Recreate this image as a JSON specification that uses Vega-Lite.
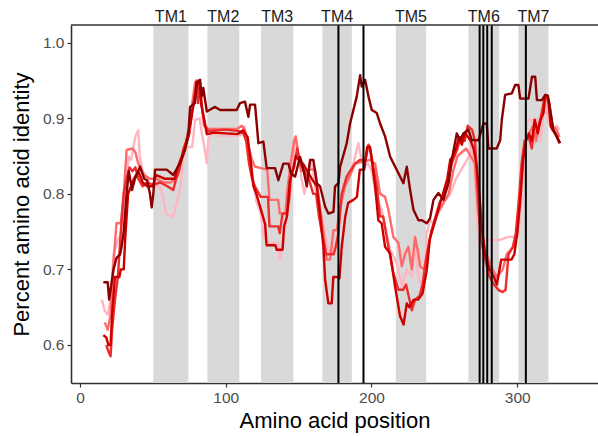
{
"$schema": "https://vega.github.io/schema/vega-lite/v6.json",
"width": 527, "height": 358,
"autosize": {"type": "none"},
"padding": {"left": 71, "top": 25, "right": 0, "bottom": 53},
"config": {
  "view": {"stroke": null},
  "font": "Liberation Sans",
  "axis": {"domainColor": "#333333", "domainWidth": 1.6, "tickColor": "#333333", "tickWidth": 1.2, "tickSize": 4, "labelColor": "#4D4D4D", "labelFontSize": 15.5, "labelFont": "Liberation Sans", "titleFont": "Liberation Sans", "titleFontSize": 22, "titleFontWeight": "normal", "titleColor": "#000000", "grid": false, "labelPadding": 3}
},
"datasets": {
  "tm": [
    {"label": "TM1", "start": 50.3, "end": 74.4},
    {"label": "TM2", "start": 87.4, "end": 109.3},
    {"label": "TM3", "start": 124.2, "end": 146.4},
    {"label": "TM4", "start": 166.3, "end": 186.5},
    {"label": "TM5", "start": 216.7, "end": 237.5},
    {"label": "TM6", "start": 266.5, "end": 287.6},
    {"label": "TM7", "start": 300.8, "end": 321.4}
  ],
  "marks": [{"p": 177.3}, {"p": 194.5}, {"p": 274.2}, {"p": 276.7}, {"p": 279.4}, {"p": 282.5}, {"p": 305.9}],
  "ident": [
{"s":"1","p":15,"v":0.66},{"s":"1","p":17,"v":0.645},{"s":"1","p":19,"v":0.64},{"s":"1","p":21,"v":0.66},{"s":"1","p":23,"v":0.72},{"s":"1","p":26,"v":0.739},{"s":"1","p":28,"v":0.745},{"s":"1","p":31,"v":0.81},{"s":"1","p":33.5,"v":0.849},{"s":"1","p":35,"v":0.845},{"s":"1","p":38,"v":0.876},{"s":"1","p":40,"v":0.884},{"s":"1","p":41,"v":0.849},{"s":"1","p":43,"v":0.83},{"s":"1","p":48,"v":0.814},{"s":"1","p":51,"v":0.81},{"s":"1","p":55,"v":0.81},{"s":"1","p":57,"v":0.796},{"s":"1","p":59,"v":0.774},{"s":"1","p":64,"v":0.77},{"s":"1","p":67,"v":0.792},{"s":"1","p":69,"v":0.81},{"s":"1","p":70,"v":0.83},{"s":"1","p":71,"v":0.849},{"s":"1","p":73,"v":0.862},{"s":"1","p":77,"v":0.862},{"s":"1","p":79,"v":0.898},{"s":"1","p":82,"v":0.9},{"s":"1","p":84,"v":0.876},{"s":"1","p":86,"v":0.854},{"s":"1","p":87,"v":0.84},{"s":"1","p":88,"v":0.871},{"s":"1","p":91,"v":0.884},{"s":"1","p":94,"v":0.877},{"s":"1","p":110,"v":0.877},{"s":"1","p":113,"v":0.889},{"s":"1","p":114,"v":0.871},{"s":"1","p":117,"v":0.849},{"s":"1","p":118.5,"v":0.823},{"s":"1","p":121,"v":0.79},{"s":"1","p":124,"v":0.774},{"s":"1","p":126,"v":0.743},{"s":"1","p":130,"v":0.735},{"s":"1","p":136,"v":0.735},{"s":"1","p":137,"v":0.713},{"s":"1","p":139,"v":0.735},{"s":"1","p":141,"v":0.757},{"s":"1","p":143.5,"v":0.818},{"s":"1","p":146,"v":0.845},{"s":"1","p":148,"v":0.875},{"s":"1","p":150,"v":0.85},{"s":"1","p":152,"v":0.82},{"s":"1","p":154,"v":0.8},{"s":"1","p":157.9,"v":0.845},{"s":"1","p":160,"v":0.83},{"s":"1","p":162,"v":0.8},{"s":"1","p":165.8,"v":0.77},{"s":"1","p":169.3,"v":0.735},{"s":"1","p":171.6,"v":0.72},{"s":"1","p":175,"v":0.73},{"s":"1","p":177.3,"v":0.757},{"s":"1","p":180.7,"v":0.81},{"s":"1","p":184.2,"v":0.827},{"s":"1","p":187.6,"v":0.84},{"s":"1","p":191,"v":0.867},{"s":"1","p":192.2,"v":0.855},{"s":"1","p":194.4,"v":0.836},{"s":"1","p":197.7,"v":0.84},{"s":"1","p":200.2,"v":0.83},{"s":"1","p":203.6,"v":0.792},{"s":"1","p":207,"v":0.779},{"s":"1","p":209.3,"v":0.757},{"s":"1","p":212.8,"v":0.726},{"s":"1","p":217.4,"v":0.708},{"s":"1","p":220.8,"v":0.677},{"s":"1","p":224.2,"v":0.7},{"s":"1","p":227.6,"v":0.69},{"s":"1","p":229.9,"v":0.735},{"s":"1","p":232.2,"v":0.69},{"s":"1","p":234.5,"v":0.677},{"s":"1","p":236.8,"v":0.704},{"s":"1","p":237.9,"v":0.748},{"s":"1","p":240.2,"v":0.765},{"s":"1","p":243,"v":0.76},{"s":"1","p":246,"v":0.775},{"s":"1","p":250,"v":0.79},{"s":"1","p":254,"v":0.8},{"s":"1","p":258,"v":0.82},{"s":"1","p":261,"v":0.83},{"s":"1","p":264,"v":0.84},{"s":"1","p":267,"v":0.85},{"s":"1","p":269,"v":0.867},{"s":"1","p":271,"v":0.823},{"s":"1","p":273,"v":0.748},{"s":"1","p":276,"v":0.713},{"s":"1","p":279,"v":0.739},{"s":"1","p":288,"v":0.739},{"s":"1","p":294,"v":0.743},{"s":"1","p":300,"v":0.743},{"s":"1","p":302,"v":0.765},{"s":"1","p":304,"v":0.818},{"s":"1","p":306,"v":0.87},{"s":"1","p":307,"v":0.898},{"s":"1","p":310,"v":0.898},{"s":"1","p":312,"v":0.867},{"s":"1","p":314,"v":0.9},{"s":"1","p":316,"v":0.87},{"s":"1","p":319,"v":0.924},{"s":"1","p":321,"v":0.898},{"s":"1","p":324,"v":0.885},{"s":"1","p":327,"v":0.89},{"s":"1","p":329,"v":0.885},
{"s":"2","p":17,"v":0.63},{"s":"2","p":19,"v":0.62},{"s":"2","p":21,"v":0.64},{"s":"2","p":23,"v":0.708},{"s":"2","p":25,"v":0.761},{"s":"2","p":28,"v":0.761},{"s":"2","p":30,"v":0.8},{"s":"2","p":32,"v":0.858},{"s":"2","p":36,"v":0.86},{"s":"2","p":38,"v":0.855},{"s":"2","p":40,"v":0.84},{"s":"2","p":44,"v":0.825},{"s":"2","p":48,"v":0.82},{"s":"2","p":52,"v":0.82},{"s":"2","p":58,"v":0.815},{"s":"2","p":62,"v":0.815},{"s":"2","p":66,"v":0.82},{"s":"2","p":69,"v":0.84},{"s":"2","p":72,"v":0.86},{"s":"2","p":75,"v":0.88},{"s":"2","p":77,"v":0.92},{"s":"2","p":79,"v":0.948},{"s":"2","p":81,"v":0.945},{"s":"2","p":83,"v":0.93},{"s":"2","p":85,"v":0.89},{"s":"2","p":88,"v":0.886},{"s":"2","p":100,"v":0.886},{"s":"2","p":108,"v":0.886},{"s":"2","p":111,"v":0.89},{"s":"2","p":113,"v":0.885},{"s":"2","p":116,"v":0.86},{"s":"2","p":118,"v":0.845},{"s":"2","p":120,"v":0.836},{"s":"2","p":128.5,"v":0.832},{"s":"2","p":130,"v":0.792},{"s":"2","p":136,"v":0.792},{"s":"2","p":137,"v":0.774},{"s":"2","p":141,"v":0.774},{"s":"2","p":142,"v":0.8},{"s":"2","p":144.5,"v":0.84},{"s":"2","p":147,"v":0.871},{"s":"2","p":148,"v":0.876},{"s":"2","p":150,"v":0.85},{"s":"2","p":152,"v":0.83},{"s":"2","p":155,"v":0.83},{"s":"2","p":158,"v":0.832},{"s":"2","p":161.3,"v":0.832},{"s":"2","p":164.7,"v":0.783},{"s":"2","p":167,"v":0.748},{"s":"2","p":169.3,"v":0.713},{"s":"2","p":171.6,"v":0.713},{"s":"2","p":173.9,"v":0.752},{"s":"2","p":176.2,"v":0.752},{"s":"2","p":178.5,"v":0.783},{"s":"2","p":181.9,"v":0.81},{"s":"2","p":186.5,"v":0.83},{"s":"2","p":188.7,"v":0.84},{"s":"2","p":199,"v":0.845},{"s":"2","p":202.5,"v":0.84},{"s":"2","p":205.9,"v":0.8},{"s":"2","p":209.3,"v":0.796},{"s":"2","p":211.6,"v":0.779},{"s":"2","p":215,"v":0.743},{"s":"2","p":218.5,"v":0.735},{"s":"2","p":220.8,"v":0.704},{"s":"2","p":223,"v":0.72},{"s":"2","p":225.3,"v":0.73},{"s":"2","p":227.6,"v":0.7},{"s":"2","p":229.9,"v":0.743},{"s":"2","p":232.2,"v":0.72},{"s":"2","p":233.4,"v":0.704},{"s":"2","p":236,"v":0.7},{"s":"2","p":238,"v":0.72},{"s":"2","p":241,"v":0.75},{"s":"2","p":244,"v":0.77},{"s":"2","p":247,"v":0.78},{"s":"2","p":250,"v":0.79},{"s":"2","p":253,"v":0.8},{"s":"2","p":256,"v":0.83},{"s":"2","p":259,"v":0.85},{"s":"2","p":262,"v":0.855},{"s":"2","p":265,"v":0.86},{"s":"2","p":268,"v":0.85},{"s":"2","p":271,"v":0.84},{"s":"2","p":273,"v":0.78},{"s":"2","p":276,"v":0.74},{"s":"2","p":279,"v":0.72},{"s":"2","p":283,"v":0.7},{"s":"2","p":286,"v":0.69},{"s":"2","p":290,"v":0.7},{"s":"2","p":293,"v":0.721},{"s":"2","p":298,"v":0.73},{"s":"2","p":300,"v":0.75},{"s":"2","p":302,"v":0.8},{"s":"2","p":304,"v":0.85},{"s":"2","p":306,"v":0.87},{"s":"2","p":308,"v":0.88},{"s":"2","p":311,"v":0.89},{"s":"2","p":313,"v":0.87},{"s":"2","p":315,"v":0.89},{"s":"2","p":318,"v":0.91},{"s":"2","p":320,"v":0.93},{"s":"2","p":322,"v":0.92},{"s":"2","p":324,"v":0.89},{"s":"2","p":327,"v":0.885},{"s":"2","p":329,"v":0.875},
{"s":"3","p":18,"v":0.6},{"s":"3","p":20,"v":0.589},{"s":"3","p":21,"v":0.585},{"s":"3","p":22,"v":0.62},{"s":"3","p":24,"v":0.66},{"s":"3","p":26,"v":0.69},{"s":"3","p":28,"v":0.75},{"s":"3","p":30,"v":0.8},{"s":"3","p":32,"v":0.82},{"s":"3","p":34,"v":0.835},{"s":"3","p":36,"v":0.83},{"s":"3","p":38,"v":0.835},{"s":"3","p":40,"v":0.82},{"s":"3","p":43,"v":0.81},{"s":"3","p":46,"v":0.815},{"s":"3","p":50,"v":0.812},{"s":"3","p":55,"v":0.815},{"s":"3","p":60,"v":0.81},{"s":"3","p":64,"v":0.805},{"s":"3","p":66,"v":0.82},{"s":"3","p":68,"v":0.83},{"s":"3","p":71,"v":0.86},{"s":"3","p":73,"v":0.87},{"s":"3","p":75,"v":0.88},{"s":"3","p":77,"v":0.91},{"s":"3","p":79,"v":0.93},{"s":"3","p":80,"v":0.95},{"s":"3","p":81,"v":0.92},{"s":"3","p":82,"v":0.945},{"s":"3","p":84,"v":0.91},{"s":"3","p":86,"v":0.89},{"s":"3","p":88,"v":0.883},{"s":"3","p":100,"v":0.885},{"s":"3","p":109,"v":0.883},{"s":"3","p":112,"v":0.88},{"s":"3","p":114,"v":0.87},{"s":"3","p":116,"v":0.84},{"s":"3","p":118,"v":0.82},{"s":"3","p":120,"v":0.81},{"s":"3","p":124,"v":0.796},{"s":"3","p":129,"v":0.796},{"s":"3","p":130,"v":0.757},{"s":"3","p":136,"v":0.757},{"s":"3","p":137,"v":0.748},{"s":"3","p":139,"v":0.774},{"s":"3","p":142,"v":0.774},{"s":"3","p":143.5,"v":0.792},{"s":"3","p":145,"v":0.828},{"s":"3","p":147,"v":0.836},{"s":"3","p":149,"v":0.86},{"s":"3","p":151,"v":0.84},{"s":"3","p":154,"v":0.83},{"s":"3","p":157,"v":0.82},{"s":"3","p":160,"v":0.8},{"s":"3","p":162,"v":0.8},{"s":"3","p":164,"v":0.77},{"s":"3","p":166,"v":0.748},{"s":"3","p":169,"v":0.72},{"s":"3","p":174,"v":0.72},{"s":"3","p":175.5,"v":0.73},{"s":"3","p":177.3,"v":0.748},{"s":"3","p":179.6,"v":0.8},{"s":"3","p":183,"v":0.823},{"s":"3","p":188.7,"v":0.84},{"s":"3","p":192.2,"v":0.845},{"s":"3","p":196,"v":0.845},{"s":"3","p":197.9,"v":0.865},{"s":"3","p":199,"v":0.86},{"s":"3","p":200.4,"v":0.845},{"s":"3","p":203.6,"v":0.81},{"s":"3","p":205.9,"v":0.77},{"s":"3","p":208,"v":0.77},{"s":"3","p":211.6,"v":0.73},{"s":"3","p":215,"v":0.695},{"s":"3","p":218.5,"v":0.673},{"s":"3","p":221.7,"v":0.673},{"s":"3","p":223.7,"v":0.68},{"s":"3","p":227.7,"v":0.646},{"s":"3","p":229.9,"v":0.66},{"s":"3","p":233,"v":0.665},{"s":"3","p":235,"v":0.68},{"s":"3","p":238,"v":0.72},{"s":"3","p":241,"v":0.75},{"s":"3","p":244,"v":0.77},{"s":"3","p":247,"v":0.79},{"s":"3","p":250,"v":0.8},{"s":"3","p":252,"v":0.81},{"s":"3","p":255,"v":0.84},{"s":"3","p":257,"v":0.85},{"s":"3","p":259,"v":0.86},{"s":"3","p":261,"v":0.875},{"s":"3","p":264,"v":0.87},{"s":"3","p":266,"v":0.89},{"s":"3","p":269,"v":0.885},{"s":"3","p":271,"v":0.87},{"s":"3","p":273,"v":0.8},{"s":"3","p":275,"v":0.74},{"s":"3","p":278,"v":0.713},{"s":"3","p":281,"v":0.69},{"s":"3","p":284,"v":0.68},{"s":"3","p":287,"v":0.673},{"s":"3","p":290,"v":0.67},{"s":"3","p":292,"v":0.673},{"s":"3","p":294,"v":0.72},{"s":"3","p":297,"v":0.73},{"s":"3","p":299,"v":0.748},{"s":"3","p":301,"v":0.79},{"s":"3","p":303,"v":0.84},{"s":"3","p":305,"v":0.87},{"s":"3","p":308,"v":0.875},{"s":"3","p":310,"v":0.86},{"s":"3","p":312,"v":0.895},{"s":"3","p":314,"v":0.885},{"s":"3","p":316,"v":0.9},{"s":"3","p":318,"v":0.92},{"s":"3","p":320,"v":0.93},{"s":"3","p":322,"v":0.92},{"s":"3","p":324,"v":0.885},{"s":"3","p":327,"v":0.877},{"s":"3","p":329,"v":0.868},
{"s":"4","p":16,"v":0.613},{"s":"4","p":18,"v":0.61},{"s":"4","p":19.5,"v":0.6},{"s":"4","p":21,"v":0.6},{"s":"4","p":22,"v":0.64},{"s":"4","p":24,"v":0.69},{"s":"4","p":27,"v":0.69},{"s":"4","p":28,"v":0.7},{"s":"4","p":30,"v":0.7},{"s":"4","p":31,"v":0.74},{"s":"4","p":33,"v":0.8},{"s":"4","p":35,"v":0.81},{"s":"4","p":37,"v":0.82},{"s":"4","p":40,"v":0.83},{"s":"4","p":43,"v":0.815},{"s":"4","p":46,"v":0.81},{"s":"4","p":50,"v":0.81},{"s":"4","p":52,"v":0.825},{"s":"4","p":58,"v":0.82},{"s":"4","p":65,"v":0.82},{"s":"4","p":67,"v":0.835},{"s":"4","p":70,"v":0.85},{"s":"4","p":72,"v":0.86},{"s":"4","p":74,"v":0.88},{"s":"4","p":76,"v":0.895},{"s":"4","p":78,"v":0.92},{"s":"4","p":80,"v":0.945},{"s":"4","p":82,"v":0.95},{"s":"4","p":83,"v":0.92},{"s":"4","p":85,"v":0.9},{"s":"4","p":87,"v":0.879},{"s":"4","p":92,"v":0.881},{"s":"4","p":108,"v":0.879},{"s":"4","p":112,"v":0.884},{"s":"4","p":115,"v":0.875},{"s":"4","p":117,"v":0.845},{"s":"4","p":119,"v":0.81},{"s":"4","p":121,"v":0.8},{"s":"4","p":124,"v":0.78},{"s":"4","p":127,"v":0.76},{"s":"4","p":128,"v":0.732},{"s":"4","p":134,"v":0.732},{"s":"4","p":135,"v":0.726},{"s":"4","p":139,"v":0.726},{"s":"4","p":140,"v":0.757},{"s":"4","p":142,"v":0.77},{"s":"4","p":144,"v":0.818},{"s":"4","p":146,"v":0.83},{"s":"4","p":148,"v":0.85},{"s":"4","p":150,"v":0.845},{"s":"4","p":153,"v":0.84},{"s":"4","p":156,"v":0.83},{"s":"4","p":159,"v":0.82},{"s":"4","p":162.5,"v":0.81},{"s":"4","p":164.7,"v":0.774},{"s":"4","p":167,"v":0.73},{"s":"4","p":168.2,"v":0.686},{"s":"4","p":170.4,"v":0.655},{"s":"4","p":172.7,"v":0.655},{"s":"4","p":173.8,"v":0.69},{"s":"4","p":177.3,"v":0.69},{"s":"4","p":178,"v":0.688},{"s":"4","p":179.6,"v":0.73},{"s":"4","p":182,"v":0.77},{"s":"4","p":184,"v":0.788},{"s":"4","p":187.6,"v":0.792},{"s":"4","p":190,"v":0.796},{"s":"4","p":192,"v":0.832},{"s":"4","p":195,"v":0.832},{"s":"4","p":197,"v":0.862},{"s":"4","p":199,"v":0.862},{"s":"4","p":202.5,"v":0.81},{"s":"4","p":204.7,"v":0.765},{"s":"4","p":207,"v":0.761},{"s":"4","p":209.3,"v":0.73},{"s":"4","p":212.8,"v":0.721},{"s":"4","p":216.2,"v":0.677},{"s":"4","p":219.6,"v":0.638},{"s":"4","p":222,"v":0.627},{"s":"4","p":224.2,"v":0.655},{"s":"4","p":226,"v":0.65},{"s":"4","p":229,"v":0.66},{"s":"4","p":232,"v":0.66},{"s":"4","p":235,"v":0.668},{"s":"4","p":238,"v":0.7},{"s":"4","p":240,"v":0.74},{"s":"4","p":243,"v":0.76},{"s":"4","p":246,"v":0.78},{"s":"4","p":249,"v":0.8},{"s":"4","p":252,"v":0.82},{"s":"4","p":254,"v":0.845},{"s":"4","p":256,"v":0.85},{"s":"4","p":258,"v":0.86},{"s":"4","p":260,"v":0.875},{"s":"4","p":262,"v":0.865},{"s":"4","p":264,"v":0.88},{"s":"4","p":266,"v":0.876},{"s":"4","p":268,"v":0.87},{"s":"4","p":270,"v":0.86},{"s":"4","p":272,"v":0.84},{"s":"4","p":274,"v":0.8},{"s":"4","p":276,"v":0.75},{"s":"4","p":278,"v":0.72},{"s":"4","p":281,"v":0.7},{"s":"4","p":284,"v":0.69},{"s":"4","p":286,"v":0.68},{"s":"4","p":289,"v":0.713},{"s":"4","p":296,"v":0.713},{"s":"4","p":298,"v":0.72},{"s":"4","p":300,"v":0.748},{"s":"4","p":302,"v":0.79},{"s":"4","p":304,"v":0.845},{"s":"4","p":306,"v":0.871},{"s":"4","p":308,"v":0.88},{"s":"4","p":310,"v":0.87},{"s":"4","p":312,"v":0.898},{"s":"4","p":314,"v":0.88},{"s":"4","p":316,"v":0.898},{"s":"4","p":318,"v":0.907},{"s":"4","p":319,"v":0.929},{"s":"4","p":321,"v":0.929},{"s":"4","p":323,"v":0.889},{"s":"4","p":326,"v":0.88},{"s":"4","p":329,"v":0.867},
{"s":"5","p":16,"v":0.683},{"s":"5","p":19,"v":0.683},{"s":"5","p":20,"v":0.66},{"s":"5","p":23,"v":0.7},{"s":"5","p":25,"v":0.715},{"s":"5","p":27.5,"v":0.72},{"s":"5","p":28.5,"v":0.73},{"s":"5","p":30,"v":0.75},{"s":"5","p":32,"v":0.8},{"s":"5","p":33.5,"v":0.83},{"s":"5","p":35.7,"v":0.805},{"s":"5","p":37.7,"v":0.82},{"s":"5","p":41.2,"v":0.836},{"s":"5","p":44,"v":0.82},{"s":"5","p":46,"v":0.818},{"s":"5","p":48,"v":0.8},{"s":"5","p":49.2,"v":0.782},{"s":"5","p":50.3,"v":0.8},{"s":"5","p":51.5,"v":0.832},{"s":"5","p":59.5,"v":0.832},{"s":"5","p":64,"v":0.825},{"s":"5","p":68.6,"v":0.84},{"s":"5","p":72,"v":0.858},{"s":"5","p":74.3,"v":0.876},{"s":"5","p":75.5,"v":0.915},{"s":"5","p":78.9,"v":0.92},{"s":"5","p":80.1,"v":0.947},{"s":"5","p":82.4,"v":0.951},{"s":"5","p":83.5,"v":0.929},{"s":"5","p":84.6,"v":0.94},{"s":"5","p":87,"v":0.909},{"s":"5","p":92.7,"v":0.915},{"s":"5","p":96.1,"v":0.911},{"s":"5","p":107.5,"v":0.911},{"s":"5","p":109.8,"v":0.92},{"s":"5","p":113.2,"v":0.922},{"s":"5","p":115.5,"v":0.902},{"s":"5","p":116.7,"v":0.918},{"s":"5","p":120.1,"v":0.918},{"s":"5","p":122.4,"v":0.867},{"s":"5","p":125.8,"v":0.869},{"s":"5","p":128.1,"v":0.834},{"s":"5","p":133.8,"v":0.834},{"s":"5","p":136.1,"v":0.818},{"s":"5","p":139.5,"v":0.84},{"s":"5","p":143,"v":0.84},{"s":"5","p":144.8,"v":0.827},{"s":"5","p":147.6,"v":0.823},{"s":"5","p":151,"v":0.849},{"s":"5","p":153.3,"v":0.832},{"s":"5","p":155.6,"v":0.81},{"s":"5","p":157.9,"v":0.845},{"s":"5","p":160.1,"v":0.845},{"s":"5","p":162.5,"v":0.814},{"s":"5","p":164.7,"v":0.81},{"s":"5","p":168.2,"v":0.783},{"s":"5","p":170.4,"v":0.774},{"s":"5","p":173.9,"v":0.776},{"s":"5","p":175,"v":0.81},{"s":"5","p":177.3,"v":0.814},{"s":"5","p":178.5,"v":0.836},{"s":"5","p":183,"v":0.867},{"s":"5","p":185.3,"v":0.893},{"s":"5","p":189.9,"v":0.929},{"s":"5","p":192.2,"v":0.957},{"s":"5","p":193.3,"v":0.942},{"s":"5","p":195.6,"v":0.951},{"s":"5","p":197.9,"v":0.929},{"s":"5","p":200.2,"v":0.911},{"s":"5","p":203.6,"v":0.907},{"s":"5","p":205.9,"v":0.893},{"s":"5","p":209.3,"v":0.876},{"s":"5","p":212.8,"v":0.849},{"s":"5","p":216.2,"v":0.836},{"s":"5","p":219.6,"v":0.823},{"s":"5","p":221.9,"v":0.814},{"s":"5","p":224.2,"v":0.836},{"s":"5","p":226.5,"v":0.805},{"s":"5","p":228.8,"v":0.779},{"s":"5","p":232.2,"v":0.765},{"s":"5","p":234.5,"v":0.765},{"s":"5","p":237.9,"v":0.761},{"s":"5","p":240.2,"v":0.768},{"s":"5","p":242.5,"v":0.792},{"s":"5","p":245.9,"v":0.801},{"s":"5","p":249.3,"v":0.792},{"s":"5","p":252.8,"v":0.814},{"s":"5","p":255.1,"v":0.845},{"s":"5","p":258.5,"v":0.88},{"s":"5","p":260.8,"v":0.871},{"s":"5","p":263.1,"v":0.88},{"s":"5","p":266.5,"v":0.885},{"s":"5","p":268.8,"v":0.871},{"s":"5","p":273.4,"v":0.871},{"s":"5","p":276.8,"v":0.893},{"s":"5","p":279.1,"v":0.893},{"s":"5","p":280.2,"v":0.86},{"s":"5","p":285.9,"v":0.86},{"s":"5","p":288.3,"v":0.871},{"s":"5","p":289.4,"v":0.898},{"s":"5","p":291.7,"v":0.931},{"s":"5","p":296.3,"v":0.933},{"s":"5","p":298.6,"v":0.944},{"s":"5","p":300.8,"v":0.944},{"s":"5","p":302,"v":0.926},{"s":"5","p":307.7,"v":0.926},{"s":"5","p":310.1,"v":0.955},{"s":"5","p":312.3,"v":0.955},{"s":"5","p":313.5,"v":0.924},{"s":"5","p":316.9,"v":0.924},{"s":"5","p":319.2,"v":0.931},{"s":"5","p":321,"v":0.93},{"s":"5","p":324.8,"v":0.885},{"s":"5","p":329.4,"v":0.867}
  ]
},
"layer": [
  {
    "data": {"name": "tm"},
    "mark": {"type": "rect", "color": "#D9D9D9"},
    "encoding": {
      "x": {"field": "start", "type": "quantitative", "scale": {"domain": [-6.17, 355.4], "nice": false, "zero": false}, "axis": {"values": [0, 100, 200, 300], "title": "Amino acid position", "titlePadding": 5}},
      "x2": {"field": "end"}
    }
  },
  {
    "data": {"name": "ident"},
    "mark": {"type": "line", "strokeWidth": 2.4, "strokeJoin": "round"},
    "encoding": {
      "x": {"field": "p", "type": "quantitative", "title": "Amino acid position"},
      "y": {"field": "v", "type": "quantitative", "scale": {"domain": [0.5497, 1.0234], "nice": false, "zero": false}, "axis": {"values": [0.6, 0.7, 0.8, 0.9, 1.0], "format": ".1f", "title": "Percent amino acid identity", "titlePadding": 9}},
      "color": {"field": "s", "type": "nominal", "legend": null, "scale": {"domain": ["1", "2", "3", "4", "5"], "range": ["#FFB6C1", "#FF6A6A", "#EE2C2C", "#CD0000", "#8B0000"]}}
    }
  },
  {
    "data": {"name": "marks"},
    "mark": {"type": "rule", "color": "#000000", "strokeWidth": 2},
    "encoding": {"x": {"field": "p", "type": "quantitative", "title": "Amino acid position"}}
  },
  {
    "data": {"values": [{}]},
    "mark": {"type": "rule", "color": "#333333", "strokeWidth": 1.6},
    "encoding": {"y": {"datum": 1.0234}}
  },
  {
    "data": {"name": "tm"},
    "transform": [{"calculate": "(datum.start + datum.end) / 2", "as": "mid"}],
    "mark": {"type": "text", "baseline": "alphabetic", "dy": -3, "fontSize": 16, "color": "#1A1A1A", "font": "Liberation Sans"},
    "encoding": {
      "x": {"field": "mid", "type": "quantitative", "title": "Amino acid position"},
      "y": {"datum": 1.0234},
      "text": {"field": "label"}
    }
  }
]
}
